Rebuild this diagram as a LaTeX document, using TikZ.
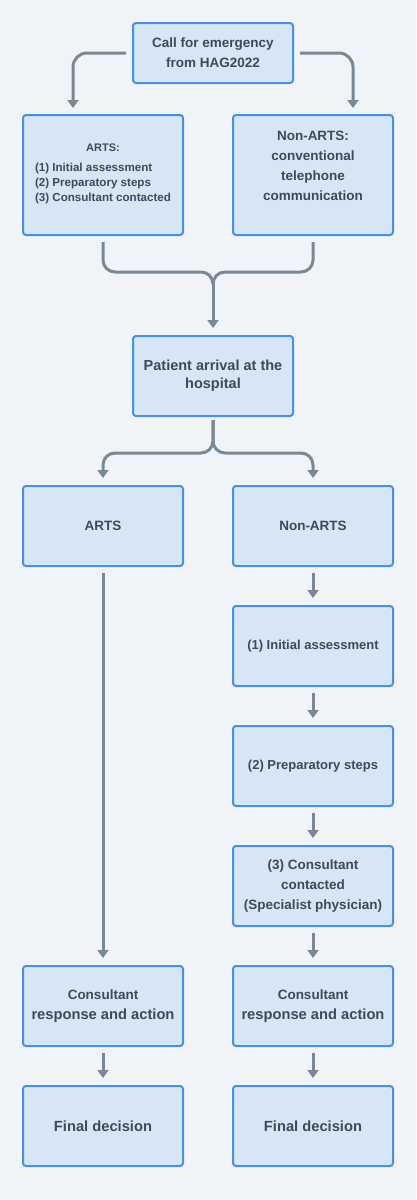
\documentclass[tikz,border=0pt]{standalone}
\usepackage{fontspec}
\setmainfont{Liberation Sans}
\usetikzlibrary{arrows.meta}
\definecolor{bgc}{HTML}{F0F4F8}
\definecolor{boxfill}{HTML}{D6E6F6}
\definecolor{boxline}{HTML}{4A90E2}
\definecolor{arrc}{HTML}{788896}
\definecolor{txtc}{HTML}{3C4A5C}
\newcommand{\bigline}[1]{{\fontsize{14.7}{20}\selectfont #1}}
\tikzset{
  stepbox/.style={draw=boxline, fill=boxfill, line width=2pt, rounded corners=3pt,
    minimum width=160pt, align=center, text=txtc, inner sep=2pt,
    font=\fontsize{13.5}{20}\selectfont\bfseries},
  conn/.style={draw=arrc, line width=3pt, -{Triangle[width=11pt,length=8pt]},
    shorten <=6pt, shorten >=7pt},
  plainline/.style={draw=arrc, line width=3pt, shorten <=6pt},
}
\begin{document}
\begin{tikzpicture}[x=1pt,y=-1pt]
\fill[bgc] (0,0) rectangle (416,1200);
\useasboundingbox (0,0) rectangle (416,1200);

\node[stepbox, minimum height=60pt] (top) at (213,53) {Call for emergency\\from HAG2022};
\node[stepbox, minimum height=120pt, font=\fontsize{11.6}{15}\selectfont\bfseries] (arts1) at (103,175)
  {{\fontsize{11}{15}\selectfont ARTS:}\\[8pt]\begin{tabular}{@{}l@{}}(1) Initial assessment\\(2) Preparatory steps\\(3) Consultant contacted\end{tabular}};
\node[stepbox, minimum height=120pt] (non1) at (313,175)
  {\raisebox{9pt}[\height][\depth]{\begin{tabular}{@{}c@{}}Non-ARTS:\\conventional\\telephone\\communication\end{tabular}}};
\node[stepbox, minimum height=80pt, font=\fontsize{14.5}{18}\selectfont\bfseries] (pat) at (213,376) {Patient arrival at the\\hospital};
\node[stepbox, minimum height=80pt] (arts2) at (103,526) {ARTS};
\node[stepbox, minimum height=80pt] (non2) at (313,526) {Non-ARTS};
\node[stepbox, minimum height=80pt, font=\fontsize{13}{20}\selectfont\bfseries] (ia) at (313,646) {(1) Initial assessment};
\node[stepbox, minimum height=80pt, font=\fontsize{13}{20}\selectfont\bfseries] (ps) at (313,766) {(2) Preparatory steps};
\node[stepbox, minimum height=80pt] (cc) at (313,886) {(3) Consultant\\contacted\\(Specialist physician)};
\node[stepbox, minimum height=80pt] (consl) at (103,1006) {Consultant\\\bigline{response and action}};
\node[stepbox, minimum height=80pt] (consr) at (313,1006) {Consultant\\\bigline{response and action}};
\node[stepbox, minimum height=80pt] (finl) at (103,1126) {\bigline{Final decision}};
\node[stepbox, minimum height=80pt] (finr) at (313,1126) {\bigline{Final decision}};

\coordinate (tl) at (73,115);
\coordinate (tr) at (353,115);
\coordinate (merge) at (213,272);
\coordinate (mergeb) at (213,282);
\coordinate (split) at (213,453);

\draw[conn, rounded corners=14pt] (top.west) -| (tl);
\draw[conn, rounded corners=14pt] (top.east) -| (tr);

\draw[plainline, rounded corners=12pt] (arts1.south) |- (merge) -- (mergeb);
\draw[plainline, rounded corners=12pt] (non1.south) |- (merge) -- (mergeb);
\draw[conn, shorten <=0pt] ([yshift=2pt]mergeb) -- (pat.north);

\draw[conn, shorten <=3pt, rounded corners=12pt] (pat.south) -- (split) -| (arts2.north);
\draw[conn, shorten <=3pt, rounded corners=12pt] (pat.south) -- (split) -| (non2.north);

\draw[conn] (arts2.south) -- (consl.north);
\draw[conn] (non2.south) -- (ia.north);
\draw[conn] (ia.south) -- (ps.north);
\draw[conn] (ps.south) -- (cc.north);
\draw[conn] (cc.south) -- (consr.north);
\draw[conn] (consl.south) -- (finl.north);
\draw[conn] (consr.south) -- (finr.north);
\end{tikzpicture}
\end{document}
